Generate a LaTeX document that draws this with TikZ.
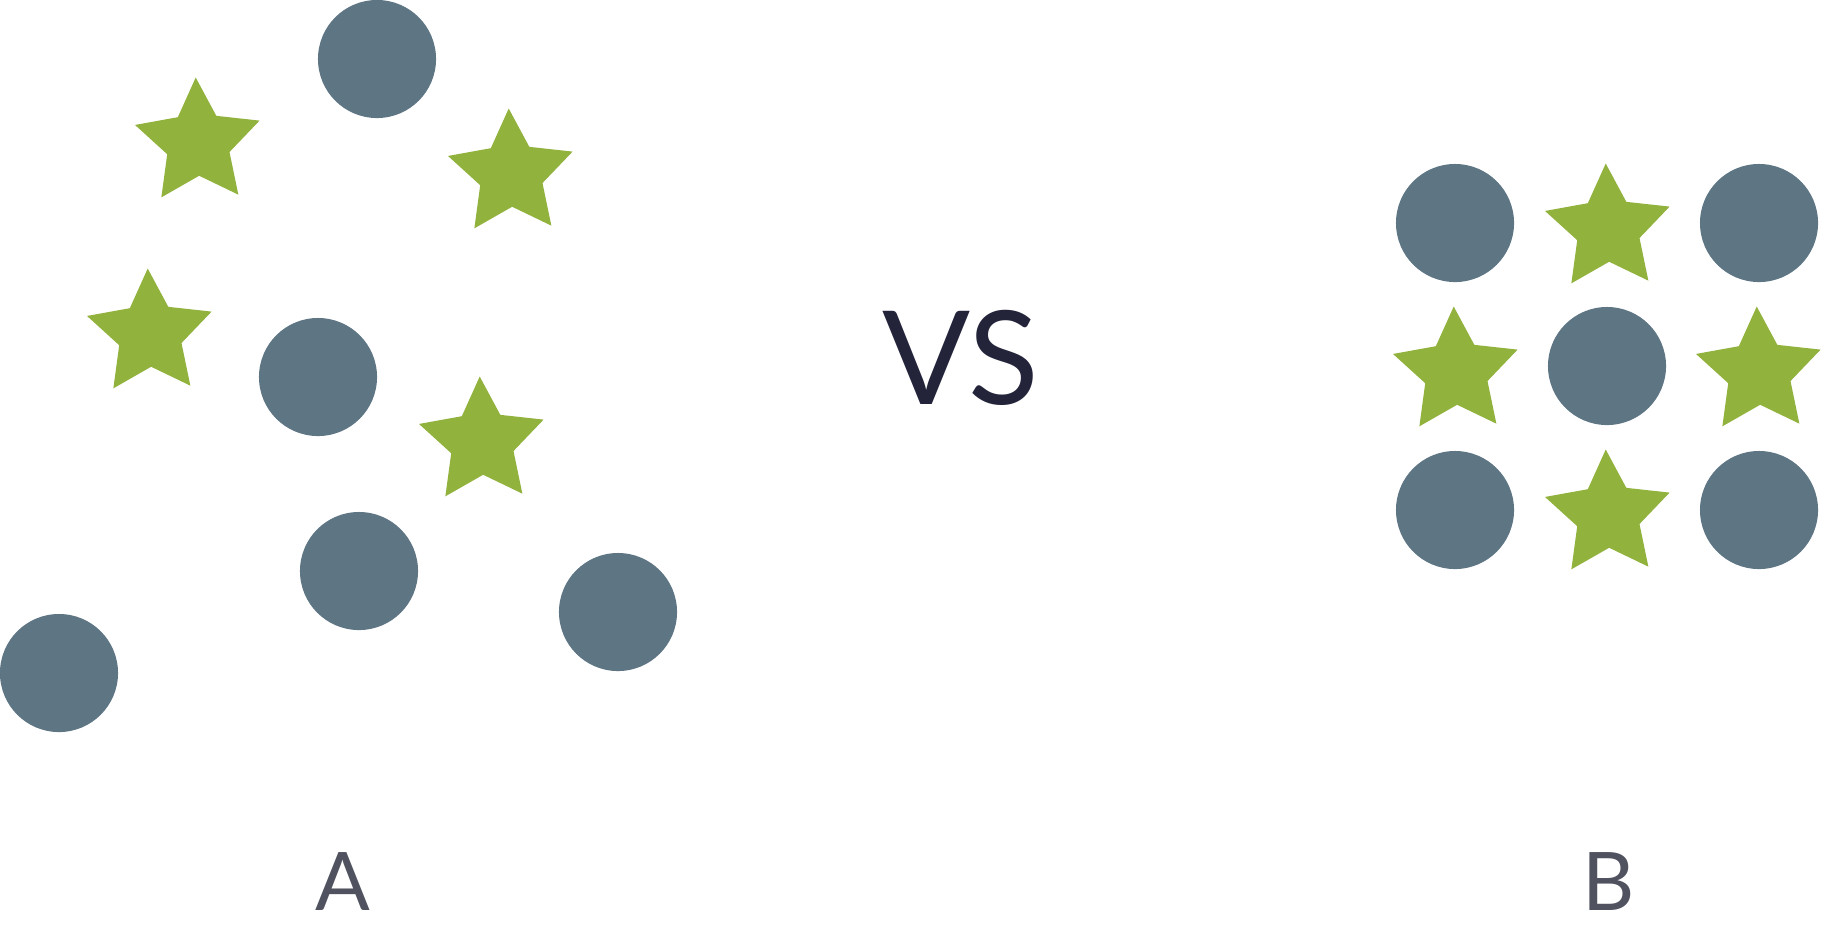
\documentclass[tikz,border=0pt]{standalone}
\usepackage{fontspec}
\setmainfont{Lato}
\usetikzlibrary{shapes.geometric}
\definecolor{slate}{HTML}{5E7584}
\definecolor{leaf}{HTML}{92B23E}
\definecolor{inkblue}{HTML}{23243A}
\definecolor{labelgray}{HTML}{50535F}
\begin{document}
\begin{tikzpicture}[x=0.01cm, y=-0.01cm,
		dot/.style={circle, fill=slate, inner sep=0pt, minimum size=1.18cm},
		starry/.style={star, star points=5, star point ratio=2, fill=leaf, inner sep=0pt, minimum size=1.31cm, shape border rotate=2},
		tag/.style={font=\fontsize{23}{23}\selectfont, text=labelgray, inner sep=0pt, anchor=base}]
		\useasboundingbox (0,0) rectangle (1821,932);
		
		% 左：杂乱
		\node[dot] (ca1) at (377,59) {};
		\node[dot] (ca2) at (318,377) {};
		\node[dot] (ca3) at (359,571) {};
		\node[dot] (ca4) at (618,612) {};
		\node[dot] (ca5) at (59,673) {};
		\node[starry] (sa1) at (198,143) {};
		\node[starry] (sa2) at (511,174) {};
		\node[starry] (sa3) at (150,334) {};
		\node[starry] (sa4) at (482,442) {};
		
		% 右：整齐
		\foreach \i/\x/\y in {1/1455/223, 2/1759/223, 3/1607/366, 4/1455/510, 5/1759/510}
		\node[dot] (cb\i) at (\x,\y) {};
		\foreach \i/\x/\y in {1/1608/229, 2/1456/372, 3/1759/372, 4/1608/515}
		\node[starry] (sb\i) at (\x,\y) {};
		
		% 文字
		\node[font=\fontsize{37}{37}\selectfont, text=inkblue, inner sep=0pt, anchor=base east] (vs) at (1040,404) {VS};
		\node[tag] (la) at (343,910) {A};
		\node[tag] (lb) at (1609,910) {B};
	\end{tikzpicture}
\end{document}
